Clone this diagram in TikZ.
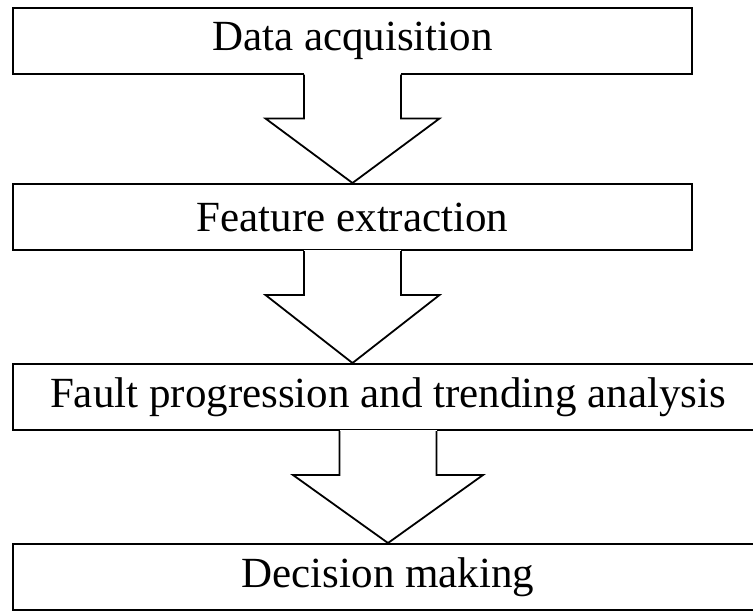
\documentclass[tikz,border=0pt]{standalone}
\usepackage{fontspec}
\setmainfont{Liberation Serif}
\usetikzlibrary{calc}

\tikzset{
  stagebox/.style={draw=black, fill=white, line width=1pt, inner sep=0pt,
    minimum height=33pt, font=\fontsize{21.5}{24}\selectfont},
  shortbox/.style={stagebox, minimum width=339.5pt},
  longbox/.style={stagebox, minimum width=375pt},
  arrowline/.style={draw=black, line width=0.9pt, line join=miter}
}

% hollow block arrow hanging from #1 down to the top of #2, head half width #3
\newcommand{\flowarrow}[3]{%
  \fill[white] ($(#1.south)+(-48.5,-1.5)$) rectangle ($(#1.south)+(48.5,44)$);
  \fill[white] ($(#1.south)+(-#3,44)$) -- ($(#1.south)+(#3,44)$)
    -- (#1.south |- #2.north) -- cycle;
  \draw[arrowline] ($(#1.south)+(-48.5,0)$) -- ($(#1.south)+(-48.5,44)$)
    -- ($(#1.south)+(-#3,44)$) -- (#1.south |- #2.north)
    -- ($(#1.south)+(#3,44)$) -- ($(#1.south)+(48.5,44)$)
    -- ($(#1.south)+(48.5,0)$);
}

\begin{document}
\begin{tikzpicture}[x=0.5pt, y=-0.5pt]
\clip (0,0) rectangle (753,611);
\fill[white] (0,0) rectangle (753,611);

\node[shortbox] (acq)   at (352.5,40.5) {Data acquisition};
\node[shortbox] (feat)  at (352.5,217)  {Feature extraction};
\node[longbox]  (fault) at (388,397)    {Fault progression and trending analysis};
\node[longbox]  (dec)   at (388,577)    {Decision making};

\flowarrow{acq}{feat}{87}
\flowarrow{feat}{fault}{87}
\flowarrow{fault}{dec}{95}
\end{tikzpicture}
\end{document}
